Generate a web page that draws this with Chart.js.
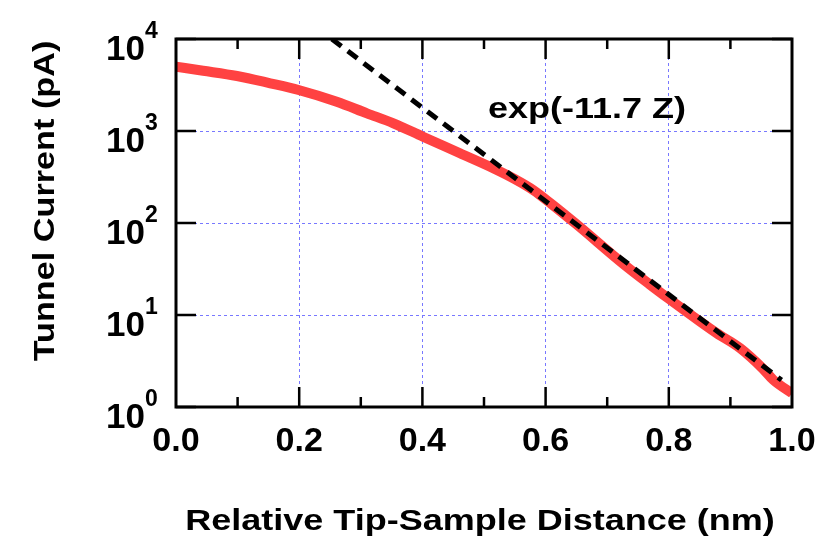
<!DOCTYPE html>
<html>
<head>
<meta charset="utf-8">
<script src="https://cdn.jsdelivr.net/npm/chart.js@4/dist/chart.umd.min.js"></script>
<style>
  html, body { margin: 0; padding: 0; background: #fff; }
  #wrap { width: 820px; height: 539px; }
</style>
</head>
<body>
<div id="wrap"><canvas id="chart_tunnel" width="820" height="539"></canvas></div>
<script>
// measured tunnel current vs relative tip-sample distance
const distance = [0, 0.044, 0.099, 0.153, 0.199, 0.261, 0.31, 0.353, 0.401, 0.461, 0.515, 0.55, 0.58, 0.61, 0.65, 0.726, 0.769, 0.799, 0.851, 0.878, 0.916, 0.953, 0.97, 1.0];
const current = [5000, 4520, 3960, 3300, 2790, 2080, 1556, 1213, 867, 573, 394, 300, 228, 160, 97, 36, 21.5, 15.2, 8.47, 6.33, 4.35, 2.6, 1.96, 1.41];

// exp(-11.7 Z) fit, straight on the log axis so two ends are enough
const fitDistance = [0.253, 0.983];
const fitCurrent = [10000, 1.96];

const xTicks = [0.1, 0.2, 0.3, 0.4, 0.5, 0.6, 0.7, 0.8, 0.9];
const decades = [1, 10, 100, 1000, 10000];

const fitLabel = "exp(-11.7 Z)";
const xTitle = "Relative Tip-Sample Distance (nm)";
const yTitle = "Tunnel Current (pA)";

const FONT = "'Liberation Sans', Arial, sans-serif";
const gridColor = "#7878ff";

function toPoints(xs, ys) {
    return xs.map((v, i) => ({ x: v, y: ys[i] }));
}

function drawText(ctx, text, x, y, angle, sx, font, align) {
    ctx.save();
    ctx.translate(x, y);
    ctx.rotate(angle);
    ctx.scale(sx, 1);
    ctx.font = font;
    ctx.textAlign = align;
    ctx.textBaseline = "alphabetic";
    ctx.fillStyle = "#000";
    ctx.fillText(text, 0, 0);
    ctx.restore();
}

// frame, inward ticks, power-of-ten labels and titles
const framePlugin = {
    id: "frame",
    afterDraw(chart) {
        const ctx = chart.ctx;
        const a = chart.chartArea;
        const x = chart.scales.x;
        const y = chart.scales.y;
        ctx.save();
        ctx.strokeStyle = "#000";
        ctx.lineWidth = 2.5;
        ctx.beginPath();
        xTicks.forEach((v) => {
            const px = x.getPixelForValue(v);
            const len = Math.round(v * 10) % 2 === 0 ? 20 : 10;
            ctx.moveTo(px, a.bottom);
            ctx.lineTo(px, a.bottom - len);
            ctx.moveTo(px, a.top);
            ctx.lineTo(px, a.top + len);
        });
        decades.forEach((v) => {
            const py = y.getPixelForValue(v);
            ctx.moveTo(a.left, py);
            ctx.lineTo(a.left + 20, py);
            ctx.moveTo(a.right, py);
            ctx.lineTo(a.right - 20, py);
        });
        ctx.stroke();
        ctx.lineWidth = 3;
        ctx.strokeRect(a.left, a.top, a.right - a.left, a.bottom - a.top);

        // 10^n labels
        ctx.fillStyle = "#000";
        decades.forEach((v) => {
            const py = y.getPixelForValue(v);
            const exp = String(Math.round(Math.log10(v)));
            ctx.font = "bold 35px " + FONT;
            ctx.textAlign = "right";
            ctx.textBaseline = "alphabetic";
            ctx.fillText("10", a.left - 31, py + 21);
            ctx.font = "bold 23px " + FONT;
            ctx.textAlign = "left";
            ctx.fillText(exp, a.left - 31, py - 1);
        });
        ctx.restore();

        drawText(ctx, xTitle, 480, 530, 0, 1.2, "bold 30px " + FONT, "center");
        drawText(ctx, yTitle, 54, 201, -Math.PI / 2, 1.18, "bold 29px " + FONT, "center");
        drawText(ctx, fitLabel, 488, 118, 0, 1.2, "bold 30px " + FONT, "left");
    },
};

const data = {
    datasets: [
        {
            label: fitLabel,
            data: toPoints(fitDistance, fitCurrent),
            borderColor: "#000",
            borderWidth: 5,
            borderDash: [12, 8],
            borderCapStyle: "butt",
            pointRadius: 0,
            order: 1,
        },
        {
            label: "Tunnel current",
            data: toPoints(distance, current),
            borderColor: "rgb(255, 66, 66)",
            borderWidth: 10,
            pointRadius: 0,
            cubicInterpolationMode: "monotone",
            borderJoinStyle: "round",
            order: 2,
        },
    ],
};

const config = {
    type: "line",
    data: data,
    options: {
        responsive: false,
        animation: false,
        layout: { padding: { top: 39, right: 28, left: 0, bottom: 0 } },
        plugins: {
            legend: { display: false },
            tooltip: { enabled: false },
        },
        scales: {
            x: {
                type: "linear",
                min: 0,
                max: 1,
                afterFit: (s) => {
                    s.height = 132;
                    s.paddingLeft = 0;
                    s.paddingRight = 0;
                },
                ticks: {
                    stepSize: 0.2,
                    padding: 14,
                    color: "#000",
                    font: { family: FONT, size: 34, weight: "bold" },
                    callback: (v) => v.toFixed(1),
                },
                grid: {
                    drawTicks: false,
                    lineWidth: 1,
                    color: (c) => (c.tick && c.tick.value > 0.01 && c.tick.value < 0.99 ? gridColor : "rgba(0,0,0,0)"),
                },
                border: { display: false, dash: [3, 3] },
            },
            y: {
                type: "logarithmic",
                min: 1,
                max: 10000,
                afterFit: (s) => { s.width = 176; },
                afterBuildTicks: (s) => { s.ticks = decades.map((v) => ({ value: v })); },
                ticks: { display: false },
                grid: {
                    drawTicks: false,
                    lineWidth: 1,
                    color: (c) => (c.tick && c.tick.value > 1 && c.tick.value < 10000 ? gridColor : "rgba(0,0,0,0)"),
                },
                border: { display: false, dash: [3, 3] },
            },
        },
    },
    plugins: [framePlugin],
};

const ctxTunnel = document.getElementById("chart_tunnel");
const tunnelChart = new Chart(ctxTunnel, config);
</script>
</body>
</html>
